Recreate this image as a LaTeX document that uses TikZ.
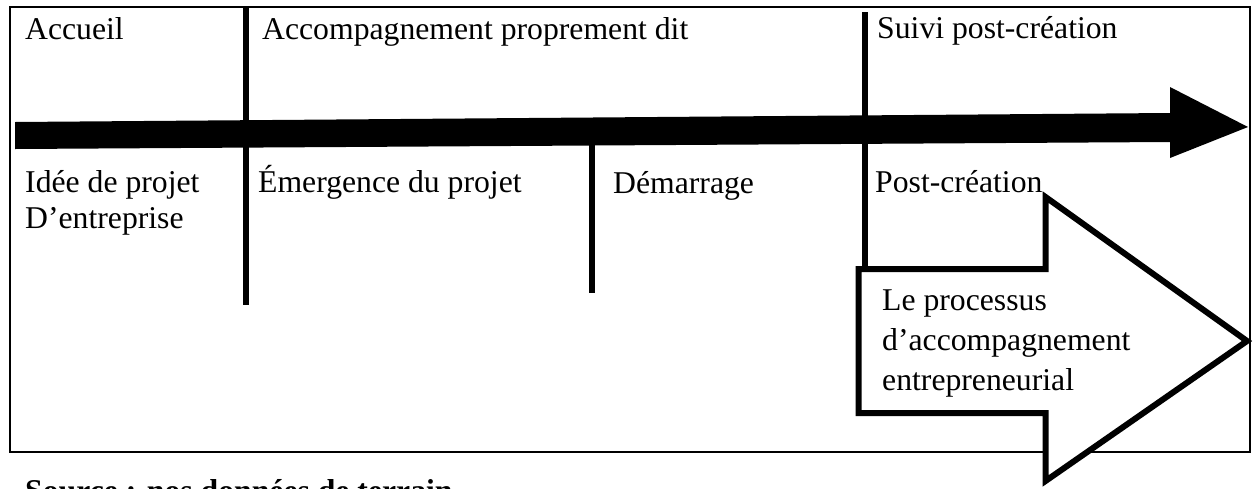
\documentclass[tikz,border=0pt]{standalone}
\usepackage{fontspec}
\setmainfont{Liberation Serif}
\begin{document}
\begin{tikzpicture}[x=1pt,y=-1pt,
  lbl/.style={anchor=base west,inner sep=0pt,font=\fontsize{31.7}{36}\selectfont},
  divider/.style={line width=6pt},
  frame/.style={line width=2pt},
  bigarrow/.style={fill=black},
  blockarrow/.style={draw=black,fill=white,line width=6pt,miter limit=10}]
\useasboundingbox (0,0) rectangle (1257,488);
% frame
\draw[frame] (10,7) rectangle (1250,452);
% timeline arrow
\fill[bigarrow] (15,122) -- (1170,113) -- (1170,87) -- (1248,127) -- (1170,158) -- (1170,142) -- (15,149) -- cycle;
% dividers
\coordinate (v1t) at (245.5,7);   \coordinate (v1b) at (245.5,305);
\coordinate (v2t) at (591.5,145); \coordinate (v2b) at (591.5,293);
\coordinate (v3t) at (864.5,12);  \coordinate (v3b) at (864.5,268);
\draw[divider] (v1t) -- (v1b);
\draw[divider] (v2t) -- (v2b);
\draw[divider] (v3t) -- (v3b);
% block arrow
\draw[blockarrow] (858.5,269) -- (1045.5,269) -- (1045.5,197) -- (1247,341) -- (1045.5,481) -- (1045.5,413) -- (858.5,413) -- cycle;
% labels
\node[lbl] (acc) at (25,39) {Accueil};
\node[lbl] (accp) at (262,39) {Accompagnement proprement dit};
\node[lbl] (suivi) at (877,38) {Suivi post-création};
\node[lbl] (idee1) at (25,192) {Idée de projet};
\node[lbl] (idee2) at (25,228) {D’entreprise};
\node[lbl] (emer) at (258,192) {Émergence du projet};
\node[lbl] (dem) at (613,193) {Démarrage};
\node[lbl] (post) at (875,192) {Post-création};
\node[lbl] (proc1) at (882,310) {Le processus};
\node[lbl] (proc2) at (882,350) {d’accompagnement};
\node[lbl] (proc3) at (882,390) {entrepreneurial};
\node[lbl,font=\fontsize{31.7}{36}\selectfont\bfseries] (src) at (25,501) {Source : nos données de terrain};
\end{tikzpicture}
\end{document}
